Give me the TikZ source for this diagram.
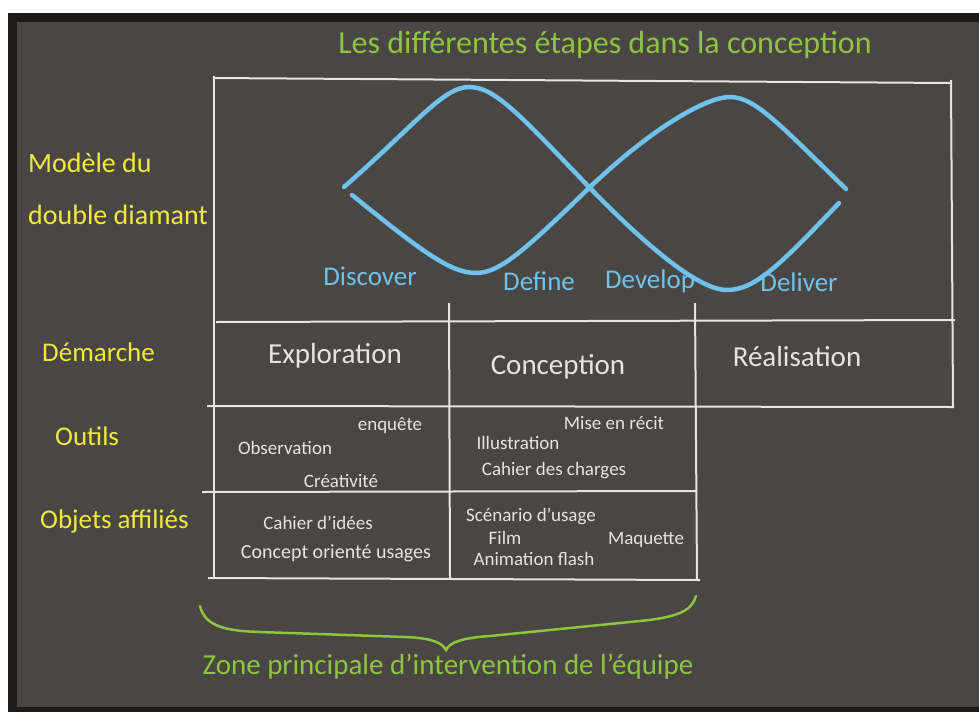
\documentclass[tikz,border=0pt]{standalone}
\usepackage{fontspec}
\setmainfont{Carlito}
\usepackage{tikz}
\definecolor{board}{HTML}{4A4643}
\definecolor{frame}{HTML}{1E1A17}
\definecolor{chalk}{HTML}{E6E4E0}
\definecolor{leaf}{HTML}{8CC63F}
\definecolor{lemon}{HTML}{F0EA3C}
\definecolor{sky}{HTML}{6EC2EC}
\tikzstyle{grid} = [draw=chalk, line width=2pt]
\tikzstyle{wave} = [draw=sky, line width=4.5pt, line cap=round]
\tikzstyle{heading} = [text=leaf, inner sep=0pt, font=\fontsize{32}{34}\selectfont]
\tikzstyle{rowlabel} = [text=lemon, inner sep=0pt, anchor=west, align=left]
\tikzstyle{phase} = [text=sky, inner sep=0pt, font=\fontsize{27}{29}\selectfont]
\tikzstyle{stage} = [text=chalk, inner sep=0pt, font=\fontsize{29}{31}\selectfont]
\tikzstyle{item} = [text=chalk, inner sep=0pt, font=\fontsize{19}{21}\selectfont]

\begin{document}
\begin{tikzpicture}[x=1pt, y=-1pt]
    % board and its frame
    \fill[white] (0,0) rectangle (979,712);
    \fill[frame] (8,13) rectangle (979,712);
    \fill[board] (17,22) rectangle (979,707);

    \node[heading] (title) at (605,45) {Les différentes étapes dans la conception};

    % table lines
    \draw[grid] (213,78) -- (951,83);
    \draw[grid] (951,80) -- (953,408);
    \draw[grid] (214,76) -- (214,578);
    \draw[grid] (216,322) -- (955,320);
    \draw[grid] (207,406) -- (952,407);
    \draw[grid] (202,492) -- (697,491);
    \draw[grid] (208,578) -- (700,580);
    \draw[grid] (449,303) -- (450,578);
    \draw[grid] (695,303) -- (697,580);

    % double diamond
    \draw[wave] (344,187) .. controls (415,125) and (443,87) .. (469,87)
        .. controls (495,87) and (520,115) .. (588,186)
        .. controls (650,250) and (700,290) .. (727,290)
        .. controls (755,290) and (780,265) .. (839,203);
    \draw[wave] (352,195) .. controls (420,250) and (450,273) .. (476,273)
        .. controls (500,273) and (525,250) .. (590,187)
        .. controls (650,130) and (705,97) .. (730,97)
        .. controls (755,97) and (780,125) .. (846,189);

    \node[phase] (discover) at (370,276) {Discover};
    \node[phase] (define) at (539,281) {Define};
    \node[phase] (develop) at (650,281) {Develop};
    \node[phase] (deliver) at (799,282) {Deliver};

    % row labels
    \node[rowlabel, font=\fontsize{28}{52}\selectfont] (model) at (28,189) {Modèle du\\double diamant};
    \node[rowlabel, font=\fontsize{27}{29}\selectfont] (approach) at (42,352) {Démarche};
    \node[rowlabel, font=\fontsize{27}{29}\selectfont] (tools) at (55,436) {Outils};
    \node[rowlabel, font=\fontsize{27}{29}\selectfont] (objects) at (40,521) {Objets affiliés};

    % stages
    \node[stage] (explo) at (335,356) {Exploration};
    \node[stage] (concep) at (558,367) {Conception};
    \node[stage] (real) at (797,357) {Réalisation};

    % tools
    \node[item] (survey) at (390,426) {enquête};
    \node[item] (observ) at (285,448) {Observation};
    \node[item] (creat) at (341,481) {Créativité};
    \node[item] (story) at (614,423) {Mise en récit};
    \node[item] (illus) at (518,443) {Illustration};
    \node[item] (specs) at (554,471) {Cahier des charges};

    % affiliated objects
    \node[item] (ideas) at (318,523) {Cahier d’idées};
    \node[item, font=\fontsize{20}{22}\selectfont] (usage) at (336,553) {Concept orienté usages};
    \node[item] (scenario) at (531,516) {Scénario d’usage};
    \node[item] (film) at (505,538) {Film};
    \node[item] (anim) at (534,559) {Animation flash};
    \node[item] (mockup) at (646,540) {Maquette};

    % brace under the first two columns
    \draw[leaf, line width=2.5pt, line cap=round] (200,606) .. controls (205,628) and (230,631) .. (260,632)
        -- (405,637) .. controls (430,638) and (442,642) .. (446,650)
        .. controls (450,642) and (462,638) .. (490,636) -- (640,621)
        .. controls (680,617) and (692,610) .. (696,596);
    \node[heading, font=\fontsize{29}{31}\selectfont] (team) at (448,667) {Zone principale d’intervention de l’équipe};
\end{tikzpicture}
\end{document}
